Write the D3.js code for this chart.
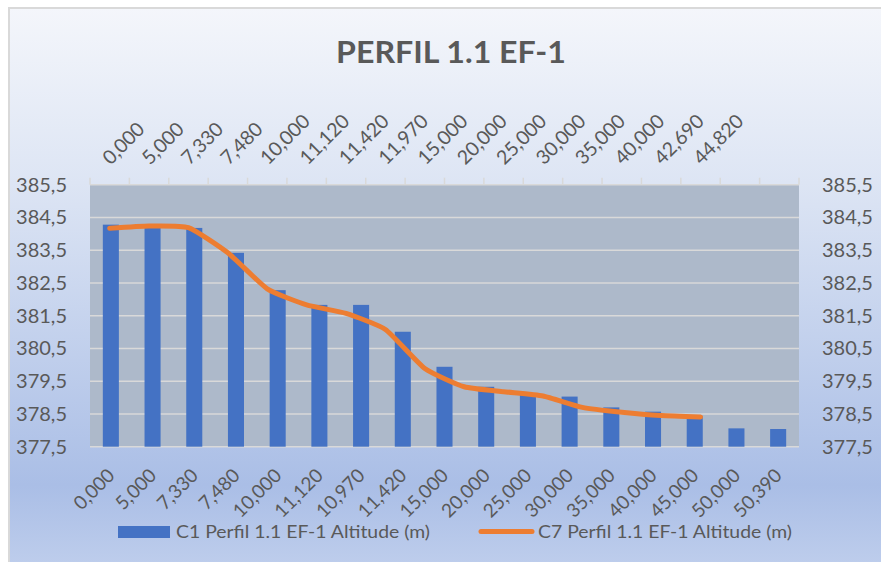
<!DOCTYPE html>
<html>
<head>
<meta charset="utf-8">
<script src="https://cdn.jsdelivr.net/npm/d3@7"></script>
<style>
  html, body { margin: 0; background: #ffffff; overflow: hidden; }
  svg { display: block; }
  text { font-family: Lato, "Open Sans", sans-serif; fill: #595959; }
</style>
</head>
<body>
<div id="container"></div>
<script>
/* DATA */
const bottomLabels = ["0,000", "5,000", "7,330", "7,480", "10,000", "11,120", "10,970", "11,420", "15,000",
  "20,000", "25,000", "30,000", "35,000", "40,000", "45,000", "50,000", "50,390"];
const c1Altitude = [384.28, 384.19, 384.18, 383.42, 382.28, 381.83, 381.83, 381.01, 379.94,
  379.33, 379.08, 379.03, 378.70, 378.57, 378.44, 378.06, 378.04];

// top axis has 18 slots, the last two without label or value
const topLabels = ["0,000", "5,000", "7,330", "7,480", "10,000", "11,120", "11,420", "11,970", "15,000",
  "20,000", "25,000", "30,000", "35,000", "40,000", "42,690", "44,820"];
const topSlots = 18;
const c7Altitude = [384.17, 384.24, 384.19, 383.42, 382.32, 381.83, 381.57, 381.08, 379.89,
  379.33, 379.18, 379.05, 378.70, 378.55, 378.45, 378.41];

const yTicks = [377.5, 378.5, 379.5, 380.5, 381.5, 382.5, 383.5, 384.5, 385.5];
const seriesNames = ["C1 Perfil 1.1 EF-1 Altitude (m)", "C7 Perfil 1.1 EF-1 Altitude (m)"];

/* CONSTANTS */
const width = 881, height = 562;
const plot = { left: 90, right: 799, top: 184.7, bottom: 446.7 };
const barColor = "#4472c4", lineColor = "#ed7d31", gridColor = "#d9d9d9";
const fmt = d => d.toFixed(1).replace(".", ",");

const svg = d3.select("#container").append("svg")
  .attr("width", width)
  .attr("height", height);

const defs = svg.append("defs");
const grad = defs.append("linearGradient")
  .attr("id", "bg").attr("x1", 0).attr("y1", 0).attr("x2", 0).attr("y2", 1);
[[0, "#f4f6fb"], [0.3, "#dde5f4"], [0.82, "#aabee6"], [1, "#c4d2ee"]].forEach(([o, c]) =>
  grad.append("stop").attr("offset", o).attr("stop-color", c));

svg.append("rect")
  .attr("x", 9).attr("y", 8)
  .attr("width", width + 20).attr("height", height + 20)
  .attr("fill", "url(#bg)")
  .attr("stroke", gridColor)
  .attr("stroke-width", 2);

svg.append("text")
  .attr("x", 451).attr("y", 63)
  .attr("text-anchor", "middle")
  .attr("font-size", 31)
  .attr("font-weight", "bold")
  .attr("textLength", 230)
  .attr("lengthAdjust", "spacingAndGlyphs")
  .text("PERFIL 1.1 EF-1");

/* SCALES */
const xBottom = d3.scaleBand()
  .domain(d3.range(bottomLabels.length))
  .range([plot.left, plot.right]);

const xTop = d3.scaleBand()
  .domain(d3.range(topSlots))
  .range([plot.left, plot.right]);

const yScale = d3.scaleLinear()
  .domain([377.5, 385.5])
  .range([plot.bottom, plot.top]);

/* PLOT AREA */
svg.append("rect")
  .attr("x", plot.left).attr("y", plot.top)
  .attr("width", plot.right - plot.left)
  .attr("height", plot.bottom - plot.top)
  .attr("fill", "#adb9ca");

svg.append("g")
  .selectAll("line")
  .data(yTicks)
  .join("line")
  .attr("x1", plot.left).attr("x2", plot.right)
  .attr("y1", d => yScale(d)).attr("y2", d => yScale(d))
  .attr("stroke", gridColor)
  .attr("stroke-width", 1.5);

// top tick marks sit between categories
svg.append("g")
  .selectAll("line")
  .data(d3.range(topSlots + 1))
  .join("line")
  .attr("x1", i => plot.left + i * xTop.step())
  .attr("x2", i => plot.left + i * xTop.step())
  .attr("y1", plot.top).attr("y2", plot.top - 7)
  .attr("stroke", gridColor)
  .attr("stroke-width", 1.5);

/* BARS */
const barW = xBottom.bandwidth() / 2.6;
svg.append("g")
  .selectAll("rect")
  .data(c1Altitude)
  .join("rect")
  .attr("x", (d, i) => xBottom(i) + xBottom.bandwidth() / 2 - barW / 2)
  .attr("y", d => yScale(d))
  .attr("width", barW)
  .attr("height", d => yScale(377.5) - yScale(d))
  .attr("fill", barColor);

/* LINE */
const lineGen = d3.line()
  .x((d, i) => xTop(i) + xTop.bandwidth() / 2)
  .y(d => yScale(d))
  .curve(d3.curveCardinal.tension(0.5));

svg.append("path")
  .datum(c7Altitude)
  .attr("d", lineGen)
  .attr("fill", "none")
  .attr("stroke", lineColor)
  .attr("stroke-width", 5)
  .attr("stroke-linejoin", "round")
  .attr("stroke-linecap", "round");

/* AXES */
const yLeft = svg.append("g")
  .attr("transform", `translate(${plot.left},0)`)
  .call(d3.axisLeft(yScale).tickValues(yTicks).tickFormat(fmt).tickSize(0).tickPadding(23));
const yRight = svg.append("g")
  .attr("transform", `translate(${plot.right},0)`)
  .call(d3.axisRight(yScale).tickValues(yTicks).tickFormat(fmt).tickSize(0).tickPadding(23));
[yLeft, yRight].forEach(g => {
  g.select(".domain").remove();
  g.selectAll("text").attr("font-size", 20).attr("fill", "#595959").attr("font-family", "Lato");
});

const xAxisBottom = svg.append("g")
  .attr("transform", `translate(0,${plot.bottom})`)
  .call(d3.axisBottom(xBottom).tickFormat(i => bottomLabels[i]).tickSize(0));
xAxisBottom.select(".domain").remove();
xAxisBottom.selectAll("text")
  .attr("font-size", 19)
  .attr("font-family", "Lato")
  .attr("fill", "#595959")
  .attr("text-anchor", "end")
  .attr("dy", null)
  .attr("y", null)
  .attr("transform", "translate(5,30) rotate(-45)");

const xAxisTop = svg.append("g")
  .attr("transform", `translate(0,${plot.top})`)
  .call(d3.axisTop(xTop).tickFormat(i => topLabels[i] || "").tickSize(0));
xAxisTop.select(".domain").remove();
xAxisTop.selectAll("text")
  .attr("font-size", 19.5)
  .attr("font-family", "Lato")
  .attr("fill", "#595959")
  .attr("text-anchor", "start")
  .attr("dy", null)
  .attr("y", null)
  .attr("transform", "translate(1,-19) rotate(-45)");

/* LEGEND */
const legend = svg.append("g");
legend.append("rect")
  .attr("x", 118).attr("y", 526)
  .attr("width", 52).attr("height", 12)
  .attr("fill", barColor);
legend.append("text")
  .attr("x", 176).attr("y", 538)
  .attr("font-size", 17)
  .attr("textLength", 254)
  .attr("lengthAdjust", "spacingAndGlyphs")
  .text(seriesNames[0]);
legend.append("line")
  .attr("x1", 481).attr("x2", 532)
  .attr("y1", 531.5).attr("y2", 531.5)
  .attr("stroke", lineColor)
  .attr("stroke-width", 5)
  .attr("stroke-linecap", "round");
legend.append("text")
  .attr("x", 538).attr("y", 538)
  .attr("font-size", 17)
  .attr("textLength", 254)
  .attr("lengthAdjust", "spacingAndGlyphs")
  .text(seriesNames[1]);
</script>
</body>
</html>
